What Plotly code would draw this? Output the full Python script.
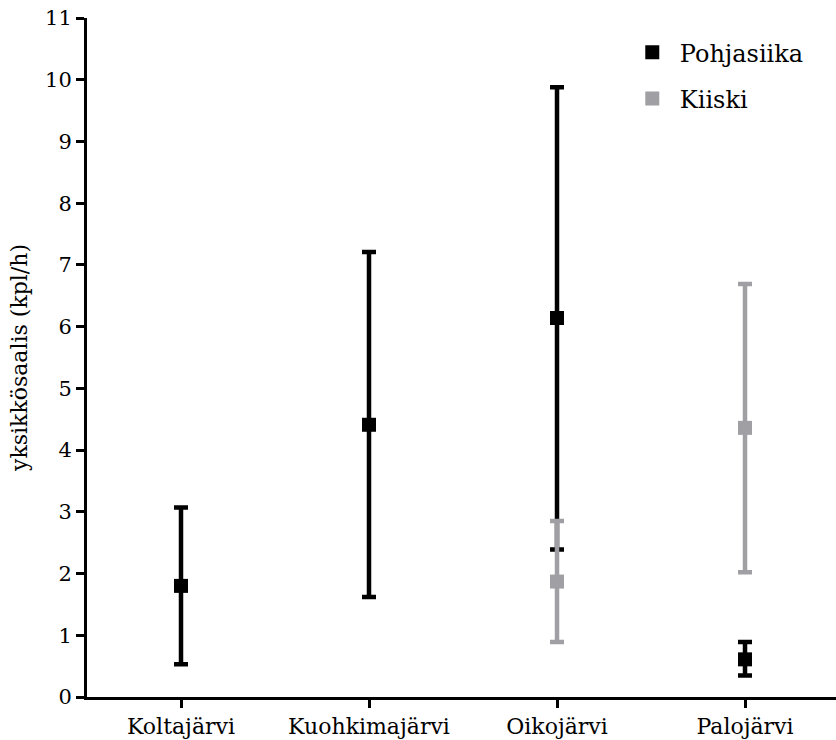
import plotly.graph_objects as go

# Lakes on the x axis
lakes = ["Koltajärvi", "Kuohkimajärvi", "Oikojärvi", "Palojärvi"]

# Pohjasiika: mean catch per unit effort with lower/upper limits
pohjasiika_mean = [1.80, 4.41, 6.14, 0.61]
pohjasiika_low = [0.53, 1.62, 2.39, 0.35]
pohjasiika_high = [3.07, 7.21, 9.88, 0.89]

# Kiiski: only caught in two lakes
kiiski_lakes = ["Oikojärvi", "Palojärvi"]
kiiski_mean = [1.87, 4.36]
kiiski_low = [0.89, 2.02]
kiiski_high = [2.85, 6.69]

y_ticks = list(range(0, 12))

FONT = "DejaVu Serif"
BLACK = "#000000"
GRAY = "#a0a0a4"


def err(mean, low, high, color):
    return dict(
        type="data",
        symmetric=False,
        array=[h - m for h, m in zip(high, mean)],
        arrayminus=[m - l for m, l in zip(mean, low)],
        color=color,
        thickness=4.5,
        width=7,
    )


fig = go.Figure()
fig.add_trace(go.Scatter(
    x=lakes, y=pohjasiika_mean, mode="markers", name="Pohjasiika",
    marker=dict(symbol="square", size=14, color=BLACK),
    error_y=err(pohjasiika_mean, pohjasiika_low, pohjasiika_high, BLACK),
    legendgroup="a",
))
fig.add_trace(go.Scatter(
    x=kiiski_lakes, y=kiiski_mean, mode="markers", name="Kiiski",
    marker=dict(symbol="square", size=14, color=GRAY),
    error_y=err(kiiski_mean, kiiski_low, kiiski_high, GRAY),
    legendgroup="b",
))

fig.update_layout(
    width=836, height=740,
    margin=dict(l=87, r=0, t=18, b=43, autoexpand=False),
    paper_bgcolor="white", plot_bgcolor="white",
    font=dict(family=FONT, size=22, color="black"),
    showlegend=True,
    legend=dict(
        x=0.718, y=0.982, xanchor="left", yanchor="top",
        font=dict(family=FONT, size=24),
        itemwidth=45,
        tracegroupgap=12,
        bgcolor="rgba(0,0,0,0)",
    ),
    xaxis=dict(
        type="category", categoryorder="array", categoryarray=lakes,
        range=[-0.5, 3.484], automargin=False,
        showline=True, linecolor="black", linewidth=3,
        ticks="outside", ticklen=8, tickwidth=2.5, tickcolor="black",
        showgrid=False, zeroline=False,
        tickfont=dict(family=FONT, size=22),
    ),
    yaxis=dict(
        range=[0, 11], tickvals=y_ticks, automargin=False,
        showline=True, linecolor="black", linewidth=3,
        ticks="outside", ticklen=8, tickwidth=2.5, tickcolor="black",
        showgrid=False, zeroline=False,
        tickfont=dict(family=FONT, size=21),
        title=dict(text="yksikkösaalis (kpl/h)", font=dict(family=FONT, size=22), standoff=12),
    ),
)

fig.write_html("out.html")
